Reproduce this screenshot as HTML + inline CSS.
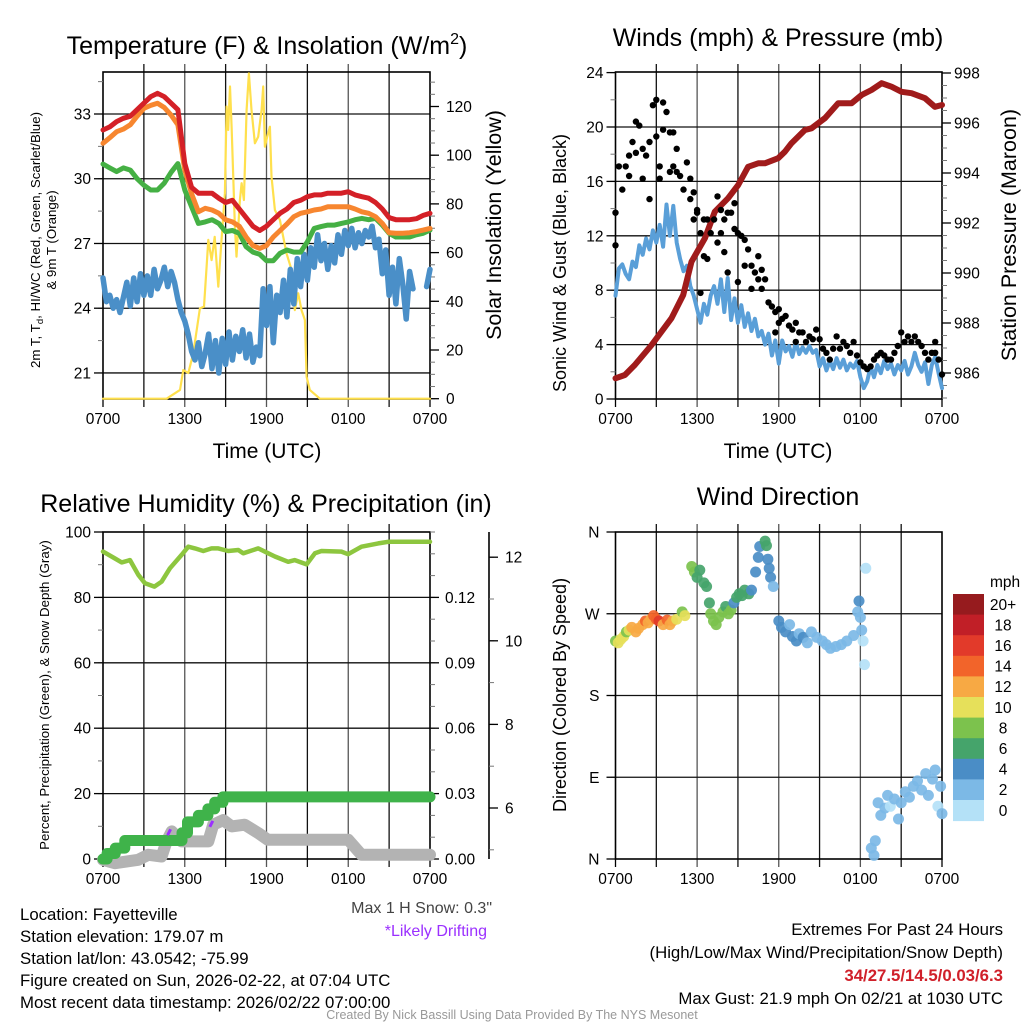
<!DOCTYPE html>
<html><head><meta charset="utf-8"><title>Fayetteville Mesonet Meteogram</title>
<style>
html,body{margin:0;padding:0;background:#fff;}
svg{display:block;font-family:"Liberation Sans",Arial,sans-serif;}
</style></head>
<body>
<svg id="chart" width="1024" height="1024" viewBox="0 0 1024 1024" xmlns="http://www.w3.org/2000/svg">
<rect x="0" y="0" width="1024" height="1024" fill="#fff"/>
<text x="267" y="54" font-size="25" text-anchor="middle">Temperature (F) &amp; Insolation (W/m<tspan font-size="16" dy="-10">2</tspan><tspan dy="10">)</tspan></text>
<text x="778" y="46" font-size="25" text-anchor="middle">Winds (mph) &amp; Pressure (mb)</text>
<text x="266" y="512" font-size="25" text-anchor="middle">Relative Humidity (%) &amp; Precipitation (in)</text>
<text x="778" y="505" font-size="25" text-anchor="middle">Wind Direction</text>
<text x="267" y="458" font-size="21" text-anchor="middle">Time (UTC)</text>
<text x="778" y="458" font-size="21" text-anchor="middle">Time (UTC)</text>
<text transform="translate(40,240) rotate(-90)" font-size="13.3" text-anchor="middle">2m T, T<tspan font-size="9.5" dy="3">d</tspan><tspan dy="-3">, HI/WC (Red, Green, Scarlet/Blue)</tspan></text>
<text transform="translate(56,240) rotate(-90)" font-size="13.3" text-anchor="middle">&amp; 9m T (Orange)</text>
<text transform="translate(501,225) rotate(-90)" font-size="21.5" text-anchor="middle">Solar Insolation (Yellow)</text>
<text transform="translate(566,263) rotate(-90)" font-size="18" text-anchor="middle">Sonic Wind &amp; Gust (Blue, Black)</text>
<text transform="translate(1016,235) rotate(-90)" font-size="21.5" text-anchor="middle">Station Pressure (Maroon)</text>
<text transform="translate(49,695) rotate(-90)" font-size="13.3" text-anchor="middle">Percent, Precipitation (Green), &amp; Snow Depth (Gray)</text>
<text transform="translate(566,695) rotate(-90)" font-size="18" text-anchor="middle">Direction (Colored By Speed)</text>
<text x="492" y="913" font-size="16" text-anchor="end" fill="#444">Max 1 H Snow: 0.3"</text>
<text x="487" y="936" font-size="16" text-anchor="end" fill="#9b30ff">*Likely Drifting</text>
<g font-size="16.8">
<text x="20" y="920">Location: Fayetteville</text>
<text x="20" y="942">Station elevation: 179.07 m</text>
<text x="20" y="964">Station lat/lon: 43.0542; -75.99</text>
<text x="20" y="986">Figure created on Sun, 2026-02-22, at 07:04 UTC</text>
<text x="20" y="1008">Most recent data timestamp: 2026/02/22 07:00:00</text>
</g>
<g font-size="16.8" text-anchor="end">
<text x="1003" y="935">Extremes For Past 24 Hours</text>
<text x="1003" y="958">(High/Low/Max Wind/Precipitation/Snow Depth)</text>
<text x="1003" y="981" fill="#d0202a" font-weight="bold">34/27.5/14.5/0.03/6.3</text>
<text x="1003" y="1004">Max Gust: 21.9 mph On 02/21 at 1030 UTC</text>
</g>
<text x="512" y="1019" font-size="12.5" text-anchor="middle" fill="#999">Created By Nick Bassill Using Data Provided By The NYS Mesonet</text>
</svg>
<script>
// ---------------- DATA ----------------
const halfHours = [0,0.5,1,1.5,2,2.5,3,3.5,4,4.5,5,5.5,6,6.5,7,7.5,8,8.5,9,9.5,10,10.5,11,11.5,12,12.5,13,13.5,14,14.5,15,15.5,16,16.5,17,17.5,18,18.5,19,19.5,20,20.5,21,21.5,22,22.5,23,23.5,24];
const temp2m = [32.26,32.4,32.65,32.8,32.9,33.2,33.5,33.8,33.96,33.8,33.5,33.2,30.7,29.6,29.33,29.33,29.33,29.1,28.9,29.0,28.6,28.2,27.8,27.6,27.8,28.1,28.4,28.6,28.9,29.0,29.17,29.25,29.25,29.33,29.33,29.33,29.4,29.25,29.17,29.1,28.9,28.6,28.2,28.1,28.1,28.1,28.15,28.3,28.4];
const temp9m = [31.64,31.9,32.18,32.3,32.5,32.9,33.26,33.4,33.5,33.3,32.95,32.5,30.4,29.3,28.47,28.63,28.55,28.4,28.1,28.0,27.8,27.3,26.9,26.77,26.9,27.3,27.6,27.9,28.24,28.4,28.47,28.55,28.6,28.7,28.7,28.7,28.7,28.6,28.47,28.4,28.24,27.93,27.5,27.47,27.47,27.5,27.55,27.62,27.7];
const dewHiWc = [30.68,30.5,30.33,30.5,30.4,30.0,29.7,29.48,29.48,29.8,30.3,30.7,29.48,28.7,27.93,28.0,28.1,27.93,27.55,27.6,27.47,26.85,26.6,26.5,26.2,26.2,26.55,26.7,26.6,26.6,27.08,27.7,27.78,27.85,27.85,27.93,28.0,28.1,28.16,28.1,28.16,27.85,27.47,27.3,27.3,27.3,27.4,27.47,27.62];
const quarterHours = Array.from({length:97},(_,i)=>i/4);
const dewBlue = [25.4,24.3,24.6,24.0,24.4,23.8,24.5,25.2,24.1,25.4,24.3,25.6,24.6,
 25.5,24.6,25.8,24.9,25.3,25.9,25.0,25.7,25.2,24.4,23.8,23.4,
 22.8,22.0,21.6,22.4,21.3,21.9,22.8,21.2,22.5,21.0,22.6,21.4,
 22.9,21.6,22.7,22.0,23.0,21.7,22.8,21.5,22.2,21.8,24.9,23.2,
 25.0,22.4,24.6,23.8,25.3,23.6,25.8,24.2,26.3,25.0,26.5,25.3,
 26.8,25.9,27.4,26.2,27.0,25.8,26.9,26.1,27.4,26.5,27.6,26.9,
 27.7,26.8,27.5,27.0,27.6,27.3,27.8,26.8,27.2,25.6,26.7,24.6,
 25.9,24.2,26.3,25.1,23.5,25.7,24.9,null,null,null,25.0,25.8];
const insTimes = [0,4.67,5.65,5.89,6.26,6.63,7.11,7.41,7.6,7.73,7.97,8.2,8.46,8.7,8.95,9.07,9.19,9.32,9.44,9.68,9.8,10.05,10.17,10.34,10.54,10.71,10.9,11.15,11.39,11.64,11.76,11.88,12.05,12.25,12.37,12.62,12.98,13.47,13.84,14.08,14.33,14.57,14.82,14.94,15.18,15.92,24];
const insValues = [0,0,3.6,11.8,10.5,18.7,37.1,37.8,54.2,65.2,56.9,66.5,46.0,65.2,84.4,120,110.4,128.2,111.7,70.6,58.3,81.6,88.5,81.6,118.6,133.6,118.6,104.9,107.6,118.6,128.2,103.5,107.6,111.7,91.2,77.5,73.4,59.7,52.9,36.4,43.3,36.4,32.3,9.0,3.6,0,0];
const presTimes = [0,0.69,1.42,2.65,4.12,4.98,5.59,6.57,7.3,8.28,9.02,9.75,10.49,10.98,11.96,12.45,12.94,13.92,14.41,15.39,16.37,17.35,18.09,18.82,19.56,20.29,21.03,21.76,22.75,23.48,24];
const presValues = [985.79,985.92,986.32,987.12,988.19,989.12,990.45,991.39,992.45,992.99,993.52,994.25,994.39,994.39,994.59,994.85,995.19,995.72,995.79,996.19,996.79,996.79,997.12,997.32,997.59,997.45,997.25,997.19,996.99,996.65,996.72];
const sonicWind = [7.6,9.6,9.9,9.2,8.8,10.1,9.7,11.3,10.6,
 11.8,11.0,12.4,11.5,12.8,11.2,14.3,12.0,
 14.2,11.5,10.3,9.4,9.8,8.3,7.6,6.6,
 5.6,7.0,6.2,7.6,8.3,7.0,8.8,6.4,
 8.9,5.8,7.4,5.6,6.9,5.3,6.3,5.0,
 5.9,4.6,5.0,4.0,4.8,3.2,4.3,2.6,
 4.3,3.5,3.9,3.1,4.2,3.3,3.8,3.4,
 3.9,3.4,3.6,2.4,3.0,2.1,2.8,2.2,
 3.0,2.3,2.9,2.1,2.6,2.3,2.8,1.6,
 0.8,1.3,2.4,1.6,2.5,1.9,2.8,2.2,
 2.6,1.8,2.5,2.1,2.8,1.8,2.4,3.4,
 2.5,2.0,2.7,1.1,2.5,3.1,1.9,0.8];
const gustTimes = [0,0,0.25,0.5,0.75,1,1,1.25,1.5,1.5,1.75,2,2,2.25,2.5,2.5,2.75,3,3,3.25,3.25,3.5,3.5,3.75,4,4,4.25,4.25,4.5,4.5,4.75,5,5.25,5.5,5.5,5.75,5.75,6,6,6.25,6.25,6.5,6.5,6.75,6.75,7,7.25,7.5,7.5,7.75,7.75,8,8,8.25,8.25,8.5,8.75,8.75,9,9,9.25,9.5,9.5,9.75,10,10,10.25,10.5,10.5,10.75,10.75,11,11.25,11.5,11.75,11.75,12,12,12.25,12.5,12.75,13,13.25,13.25,13.5,13.75,14,14.25,14.5,14.75,15,15.25,15.5,15.75,16,16.25,16.5,16.75,17,17.25,17.5,17.75,18,18.25,18.5,18.75,19,19.25,19.5,19.75,20,20.25,20.5,20.75,21,21.25,21.5,21.75,22,22.25,22.5,22.75,23,23.25,23.5,23.5,23.75,24];
const gustValues = [11.3,13.7,17.1,15.4,17.1,16.4,17.9,18.9,18.1,20.4,20.1,16.2,18.4,17.9,14.7,18.9,21.6,22.0,19.3,17.1,16.2,21.8,19.8,21.1,19.6,16.7,19.6,17.1,18.4,16.7,16.4,15.4,17.4,16.2,14.7,15.2,13.2,13.7,13.9,12.2,7.8,13.2,10.5,13.2,10.3,12.2,13.2,14.9,11.5,13.9,12.2,13.2,10.8,13.7,9.3,13.7,14.4,12.5,12.2,8.6,12.0,11.7,9.8,11.0,9.8,8.1,9.3,10.5,8.8,9.5,8.1,8.8,7.1,6.8,6.4,4.9,6.6,5.6,5.9,6.1,5.4,5.1,5.6,4.2,4.9,4.9,4.2,4.6,4.4,5.1,4.4,3.7,3.4,2.9,3.7,4.6,3.7,4.2,3.9,3.4,4.2,3.2,2.7,2.4,2.2,2.4,2.9,3.2,3.4,3.2,2.9,2.9,3.4,3.9,4.9,4.2,4.6,4.2,4.6,4.2,3.9,3.4,2.9,3.4,4.2,3.4,2.9,1.8];
const rhTimes = [0,0.88,1.37,1.98,2.59,3.08,3.77,4.3,4.91,5.77,6.26,6.75,7.36,7.97,8.46,9.19,9.93,10.29,11.39,12.13,12.62,13.59,14.08,14.94,15.55,16.04,17.5,17.99,18.97,20.2,20.93,24];
const rhValues = [94.0,91.9,90.7,91.4,86.9,84.3,83.3,84.8,88.9,93.0,95.5,95.0,94.2,95.0,95.0,94.2,94.5,93.5,95.0,93.5,92.5,90.9,91.4,90.1,93.5,94.2,94.0,93.2,95.5,96.5,97.0,97.0];
const precipTimes = [0,0.3,0.3,0.9,0.9,1.6,1.6,5.8,5.8,6.2,6.2,7.0,7.0,7.7,7.7,8.2,8.2,8.8,8.8,24];
const precipValues = [0,0,0.0025,0.0025,0.005,0.005,0.0085,0.0085,0.012,0.012,0.017,0.017,0.02,0.02,0.023,0.023,0.026,0.026,0.0285,0.0285];
const snowTimes = [0,0.88,2.59,3.33,4.3,4.67,5.04,5.77,7.73,8.09,8.83,9.44,10.4,11.4,12.1,18.0,18.97,24];
const snowValues = [4.76,4.68,4.76,4.88,4.84,5.2,5.44,5.2,5.2,5.6,5.71,5.56,5.6,5.4,5.24,5.24,4.88,4.88];
const driftTimes = [4.85,7.95];
const driftValues = [5.42,5.62];
const dirTimes = [0,0.2,0.4,0.6,0.8,1.0,1.2,1.5,1.7,2.0,2.2,2.4,2.6,2.8,3.0,3.2,3.5,3.8,4.0,4.2,4.5,4.9,5.1,
 5.6,5.8,6.0,6.2,6.5,6.7,6.9,7.0,7.2,7.4,7.6,7.9,8.1,8.3,8.5,8.7,8.9,9.1,9.3,9.5,9.8,10.0,10.3,10.5,10.6,11.0,11.1,11.2,11.3,11.4,11.6,
 12.0,12.2,12.5,12.8,13.0,13.3,13.5,13.8,14.1,14.4,14.8,15.2,15.5,15.8,16.2,16.6,17.0,17.5,17.8,17.9,18.0,18.1,18.2,18.3,18.4,
 18.8,19.0,19.1,19.3,19.5,19.8,20.0,20.2,20.5,20.8,21.0,21.3,21.6,21.9,22.2,22.5,22.8,23.0,23.3,23.5,23.7,23.9,24.0];
const dirValues = [240,238,242,245,250,252,255,250,254,258,262,260,264,268,264,262,258,263,258,262,264,272,268,
 322,316,310,318,304,300,282,270,262,258,266,272,278,270,274,282,288,292,290,296,292,296,316,332,344,350,345,330,320,310,300,
 262,255,250,258,245,240,248,244,238,250,244,240,236,232,234,236,240,246,272,284,266,252,240,214,320,
 12,4,20,62,48,56,70,58,66,44,62,74,68,80,86,76,94,70,88,98,58,80,50];
const dirSpeeds = [8,10,9,10,8,10,12,12,11,12,13,12,12,13,14,15,12,14,12,11,10,8,10,
 8,8,6,6,6,6,6,8,8,8,8,8,6,8,8,4,6,6,6,6,6,4,4,4,4,6,6,4,4,4,2,
 4,4,4,2,4,4,2,4,2,2,2,2,2,2,2,2,2,2,2,4,2,2,0,0,0,
 2,2,2,2,2,2,2,0,2,2,2,2,2,2,2,2,2,2,2,2,0,2,2];
const speedBins = ["0","2","4","6","8","10","12","14","16","18","20+"];
const speedColors = ["#b4e1f7","#7cb9e6","#4a8dc6","#45a46b","#7cc24d","#e6e05a","#f7a944","#f2642a","#e23a2a","#c11f27","#961b1e"];
const xTickHours = [0,6,12,18,24];
const xTickLabels = ["0700","1300","1900","0100","0700"];
const tempTicks = [21,24,27,30,33];
const insTicks = [0,20,40,60,80,100,120];
const windTicks = [0,4,8,12,16,20,24];
const presTicks = [986,988,990,992,994,996,998];
const rhTicks = [0,20,40,60,80,100];
const precipTicks = [0,0.03,0.06,0.09,0.12];
const snowTicks = [6,8,10,12];
const dirTicks = [0,90,180,270,360];
const dirTickLabels = ["N","E","S","W","N"];

// --------------- SCALES ---------------
const P1 = {x0:103,x1:430,y0:72,y1:399};
const P2 = {x0:615.5,x1:942,y0:72,y1:399};
const P3 = {x0:103,x1:430,y0:532,y1:859};
const P4 = {x0:615.5,x1:942,y0:532,y1:859};
const xL = h => P1.x0 + h*(P1.x1-P1.x0)/24;
const xR = h => P2.x0 + h*(P2.x1-P2.x0)/24;
const yTemp = v => 114 + (33-v)*21.58;
const yIns = v => 398.7 - v*2.435;
const yWind = v => 399 - v*13.6;
const yPres = p => 373 - (p-986)*25;
const yRH = v => 859 - v*3.27;
const yPrecip = v => 859 - (v/0.0015)*3.27;
const ySnow = v => 808 - (v-6)*41.8;
const yDir = d => 859 - d*327/360;

const NS = 'http://www.w3.org/2000/svg';
const svg = document.getElementById('chart');
function mk(tag, attrs, parent){
  const e = document.createElementNS(NS, tag);
  for (const k in attrs) e.setAttribute(k, attrs[k]);
  (parent||svg).appendChild(e);
  return e;
}
function group(name){
  const g = mk('g', {});
  
  
  return g;
}
function pathD(xs, ys, xf, yf){
  let d = '', pen = false;
  for (let i=0;i<xs.length;i++){
    if (ys[i]===null || ys[i]===undefined){ pen=false; continue; }
    d += (pen?'L':'M') + xf(xs[i]).toFixed(1) + ' ' + yf(ys[i]).toFixed(1) + ' ';
    pen = true;
  }
  return d;
}
function series(name, xs, ys, xf, yf, color, width){
  const p = mk('path', {d:pathD(xs,ys,xf,yf), fill:'none', stroke:color, 'stroke-width':width, 'stroke-linejoin':'round', 'stroke-linecap':'round'});
  
  
  return p;
}

// --------------- AXES / GRID ---------------
function gridAndFrame(P, prefix, xf, hTickVals, hTickY){
  const g = group(prefix + '-grid');
  for (let h=3; h<24; h+=3){
    const x = xf(h);
    mk('line', {x1:x, y1:P.y0-8, x2:x, y2:P.y1+8, stroke:(h%6===0?'#555':'#111'), 'stroke-width':1.3}, g);
  }
  for (const v of hTickVals){
    const y = hTickY(v);
    if (y>P.y0+1 && y<P.y1-1) mk('line', {x1:P.x0, y1:y, x2:P.x1, y2:y, stroke:'#111', 'stroke-width':1.3}, g);
  }
  const f = mk('rect', {x:P.x0, y:P.y0, width:P.x1-P.x0, height:P.y1-P.y0, fill:'none', stroke:'#000', 'stroke-width':1.6});
  
  
  mk('line', {x1:P.x0, y1:P.y1, x2:P.x0, y2:P.y1+8, stroke:'#000', 'stroke-width':1.3}, g);
  mk('line', {x1:P.x1, y1:P.y1, x2:P.x1, y2:P.y1+8, stroke:'#000', 'stroke-width':1.3}, g);
  const xl = group(prefix + '-x-tick-labels');
  xTickHours.forEach((h,i)=>{
    const t = mk('text', {x:xf(h), y:P.y1+25, 'font-size':15.5, 'text-anchor':'middle'}, xl);
    t.textContent = xTickLabels[i];
  });
}
function yAxis(P, name, side, vals, labels, yf, minorStep, lo, hi, axisX, fmt, labelOffset){
  const g = group(name);
  const x = axisX;
  const dir = side==='left' ? -1 : 1;
  for (let v=lo; v<=hi+1e-9; v+=minorStep){
    const y = yf(v);
    if (y < P.y0-0.5 || y > P.y1+0.5) continue;
    mk('line', {x1:x, y1:y, x2:x+dir*5, y2:y, stroke:'#777', 'stroke-width':1}, g);
  }
  vals.forEach((v,i)=>{
    const y = yf(v);
    mk('line', {x1:x, y1:y, x2:x+dir*9, y2:y, stroke:'#000', 'stroke-width':1.3}, g);
    const t = mk('text', {x:x+dir*(labelOffset||12), y:y+5.5, 'font-size':15.5, 'text-anchor': side==='left'?'end':'start'}, g);
    t.textContent = labels ? labels[i] : (fmt ? fmt(v) : String(v));
  });
}

// Panel 1
gridAndFrame(P1, 'temperature', xL, tempTicks, yTemp);
yAxis(P1, 'temperature-left-axis', 'left', tempTicks, null, yTemp, 1.5, 19.5, 36, P1.x0);
yAxis(P1, 'insolation-right-axis', 'right', insTicks, null, yIns, 5, 0, 135, P1.x1, null, 16);
// Panel 2
gridAndFrame(P2, 'winds', xR, windTicks, yWind);
yAxis(P2, 'wind-left-axis', 'left', windTicks, null, yWind, 2, 0, 24, P2.x0);
yAxis(P2, 'pressure-right-axis', 'right', presTicks, null, yPres, 0.5, 985, 999, P2.x1);
// Panel 3
gridAndFrame(P3, 'humidity', xL, rhTicks, yRH);
yAxis(P3, 'humidity-left-axis', 'left', rhTicks, null, yRH, 10, 0, 100, P3.x0);
yAxis(P3, 'precipitation-right-axis', 'right', precipTicks, null, yPrecip, 0.01, 0, 0.15, P3.x1, v=>v.toFixed(2), 15);
{
  const sx = 489;
  const l = mk('line', {x1:sx, y1:P3.y0, x2:sx, y2:P3.y1, stroke:'#000', 'stroke-width':1.6});
  
  
  yAxis(P3, 'snow-depth-right-axis', 'right', snowTicks, null, ySnow, 1, 5, 13, sx, null, 16);
}
// Panel 4
gridAndFrame(P4, 'wind-direction', xR, dirTicks, yDir);
yAxis(P4, 'direction-left-axis', 'left', dirTicks, dirTickLabels, yDir, 90, 0, 360, P4.x0, null, 16);

// --------------- SERIES ---------------
series('insolation-line', insTimes, insValues, xL, yIns, '#ffe04d', 2.2);
series('dewpoint-windchill-line', quarterHours, dewBlue, xL, yTemp, '#4a8fc8', 5.5);
series('dewpoint-green-line', halfHours, dewHiWc, xL, yTemp, '#45b044', 5);
series('temperature-9m-line', halfHours, temp9m, xL, yTemp, '#f7862f', 5);
series('temperature-2m-line', halfHours, temp2m, xL, yTemp, '#d42027', 5);

series('sonic-wind-line', quarterHours, sonicWind, xR, yWind, '#5a9fd8', 4);
series('station-pressure-line', presTimes, presValues, xR, yPres, '#a01b1b', 6);
{
  const g = group('gust-points');
  for (let i=0;i<gustTimes.length;i++){
    const c = mk('circle', {cx:xR(gustTimes[i]).toFixed(1), cy:yWind(gustValues[i]).toFixed(1), r:3.2, fill:'#000'}, g);
    
    
  }
}

series('snow-depth-line', snowTimes, snowValues, xL, ySnow, '#b3b3b3', 12);
series('precipitation-line', precipTimes, precipValues, xL, yPrecip, '#3fb34a', 11);
{
  const g = group('drifting-marks');
  for (let i=0;i<driftTimes.length;i++){
    const x = xL(driftTimes[i]), y = ySnow(driftValues[i]);
    const m = mk('line', {x1:x-1.5, y1:y+3, x2:x+1.5, y2:y-3, stroke:'#9b30ff', 'stroke-width':3}, g);
    
    
  }
}
series('relative-humidity-line', rhTimes, rhValues, xL, yRH, '#8dc63f', 4.5);

{
  const g = group('wind-direction-points');
  for (let i=0;i<dirTimes.length;i++){
    let bin = Math.min(10, Math.max(0, Math.round(dirSpeeds[i]/2)));
    const c = mk('circle', {cx:xR(dirTimes[i]).toFixed(1), cy:yDir(dirValues[i]).toFixed(1), r:5.5, fill:speedColors[bin], 'fill-opacity':0.92}, g);
    
    
  }
}

// --------------- COLOR BAR ---------------
{
  const g = group('speed-colorbar');
  const top = 594, h = 20.6, x = 953, w = 31;
  const t = mk('text', {x:990, y:587, 'font-size':15.5}, g);
  t.textContent = 'mph';
  for (let i=0;i<speedBins.length;i++){
    const k = speedBins.length-1-i;
    const y = top + i*h;
    const r = mk('rect', {x:x, y:y, width:w, height:h+0.5, fill:speedColors[k]}, g);
    
    
    const lb = mk('text', {x:1003, y:y+h/2+5.5, 'font-size':15.5, 'text-anchor':'middle'}, g);
    lb.textContent = speedBins[k];
  }
}
</script>
</body></html>
